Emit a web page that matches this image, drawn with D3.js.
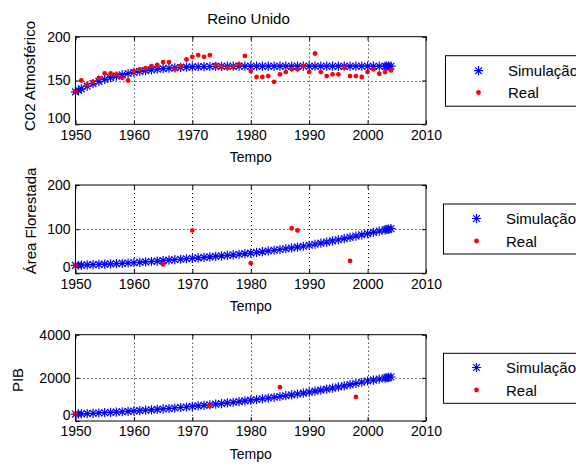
<!DOCTYPE html>
<html><head><meta charset="utf-8">
<script src="https://cdn.jsdelivr.net/npm/d3@7"></script>
<style>
html,body{margin:0;padding:0;background:#fff;}
svg text{font-family:"Liberation Sans",Arial,Helvetica,sans-serif;fill:#000;}
</style></head>
<body><svg id="c" width="576" height="466"></svg>
<script>
// ---------- data ----------
const title = "Reino Unido";
const xTicks = [1950, 1960, 1970, 1980, 1990, 2000, 2010];
const legendLabels = ["Simulação", "Real"];

const simYears = [1950,1950.5,1951,1952,1953,1954,1955,1956,1957,1958,1959,
  1960,1961,1962,1963,1964,1965,1966,1967,1968,1969,
  1970,1971,1972,1973,1974,1975,1976,1977,1978,1979,
  1980,1981,1982,1983,1984,1985,1986,1987,1988,1989,
  1990,1991,1992,1993,1994,1995,1996,1997,1998,1999,
  2000,2001,2002,2003,2003.3,2003.6,2004];

// CO2 Atmosférico
const co2Sim = [137,139,140.5,143.5,146.5,149,151.2,153.2,155,156.6,158,
  159.2,160.3,161.3,162.1,162.9,163.5,164,164.5,164.9,165.2,
  165.5,165.7,165.9,166,166.1,166.2,166.3,166.3,166.3,166.3,
  166.3,166.3,166.3,166.3,166.3,166.3,166.3,166.3,166.3,166.3,
  166.3,166.3,166.3,166.3,166.3,166.3,166.3,166.3,166.3,166.3,
  166.3,166.3,166.3,166.3,166.3,166.3,166.3];
const co2RealYears = [1950,1951,1952,1953,1954,1955,1956,1957,1958,1959,
  1960,1961,1962,1963,1964,1965,1966,1967,1968,1969,
  1970,1971,1972,1973,1974,1975,1976,1977,1978,1979,
  1980,1981,1982,1983,1984,1985,1986,1987,1988,1989,
  1990,1991,1992,1993,1994,1995,1996,1997,1998,1999,
  2000,2001,2002,2003,2004];
const co2Real = [137.7,150,145.4,148.5,153,158,158,157,153,150,
  160.8,162.7,164,166.5,167.7,171,171,162.7,166.5,174,
  177,179,177,179,167.7,165.4,164.6,165.4,168.5,178,
  160.8,154,154,155,148.5,157,159.6,162.7,162.7,166.5,
  159.6,180.8,159.6,155,157,157,164.6,155,155,154,
  159.6,162.7,157.7,159.6,161.5];

// Área Florestada
const areaSim = [18,18.2,18.5,19,19.5,20.1,20.7,21.3,22,22.6,23.3,
  24,24.9,25.8,26.7,27.7,28.7,29.7,30.8,31.8,32.9,
  34,35.1,36.2,37.3,38.4,39.6,40.7,41.9,43.1,44.5,
  46,47.5,49,50.6,52.2,53.9,55.6,57.4,59.3,61.3,
  63.5,65.8,68.2,70.7,73.3,76,78.7,81.5,84.3,87.1,
  90,92.8,95.6,98.4,99.3,100.2,101];
const areaRealYears = [1950,1965,1970,1980,1987,1988,1997];
const areaReal = [18,20,97,23,102,97,28];

// PIB
const pibSim = [320,326,332,344,357,370,384,398,413,428,446,
  465,482,500,518,538,558,580,602,625,650,
  675,700,726,752,780,808,838,868,900,932,
  965,997,1030,1064,1099,1135,1172,1211,1251,1292,
  1340,1385,1430,1478,1527,1578,1630,1683,1738,1795,
  1853,1895,1945,1990,2005,2020,2040];
const pibRealYears = [1950,1973,1985,1998];
const pibReal = [320,700,1570,1115];

// ---------- layout ----------
const panels = [
  {top:36.7, bottom:124.3, yDomain:[100,200], yTicks:[100,150,200], ylabel:"C02 Atmosférico", ylx:29, yly:76,
   sim:co2Sim, realX:co2RealYears, real:co2Real, legend:{x:445.5,y:55.7,h:50.5,r1:70.7,r2:92.5}},
  {top:185, bottom:273.3, yDomain:[0,200], yTicks:[0,100,200], ylabel:"Área Florestada", ylx:30, yly:221,
   sim:areaSim, realX:areaRealYears, real:areaReal, legend:{x:443.5,y:204,h:50,r1:218.5,r2:241}},
  {top:334.7, bottom:421, yDomain:[0,4000], yTicks:[0,2000,4000], ylabel:"PIB", ylx:17.5, yly:380,
   sim:pibSim, realX:pibRealYears, real:pibReal, legend:{x:443.5,y:353.3,h:50,r1:367.5,r2:390}}
];
const left = 75.5, right = 426;
const svg = d3.select("#c");
const x = d3.scaleLinear().domain([1950,2010]).range([left,right]);
const FS = 14;

svg.append("text").attr("x", 248.5).attr("y", 24).attr("text-anchor","middle")
  .style("font-size", "15px").text(title);

function asterisk(g, cx, cy, color) {
  const a = 4.6, b = 3.4;
  g.append("path")
    .attr("d", `M${cx-a},${cy}H${cx+a}M${cx},${cy-a}V${cy+a}M${cx-b},${cy-b}L${cx+b},${cy+b}M${cx-b},${cy+b}L${cx+b},${cy-b}`)
    .attr("stroke", color).attr("stroke-width", 1.2).attr("fill","none");
}

panels.forEach(p => {
  const y = d3.scaleLinear().domain(p.yDomain).range([p.bottom, p.top]);
  const g = svg.append("g");
  g.append("rect").attr("x",left).attr("y",p.top).attr("width",right-left).attr("height",p.bottom-p.top).attr("fill","#fff");
  // grid
  const grid = g.append("g").attr("stroke","#000").attr("stroke-width",1).attr("stroke-dasharray","1,3");
  xTicks.slice(1,-1).forEach(t => grid.append("line").attr("x1",Math.round(x(t))+0.5).attr("x2",Math.round(x(t))+0.5).attr("y1",p.top).attr("y2",p.bottom));
  p.yTicks.slice(1,-1).forEach(t => grid.append("line").attr("x1",left).attr("x2",right).attr("y1",Math.round(y(t))+0.5).attr("y2",Math.round(y(t))+0.5));

  const xAxis = d3.axisBottom(x).tickValues(xTicks).tickFormat(d3.format("d")).tickSizeInner(-4).tickSizeOuter(0);
  const ax = g.append("g").attr("transform",`translate(0,${p.bottom})`).call(xAxis);
  ax.select(".domain").remove();
  ax.selectAll("line").attr("stroke","#000");
  ax.selectAll("text").style("font-size",FS+"px").attr("dy","0.71em").attr("y",5.5);
  const xTop = d3.axisTop(x).tickValues(xTicks).tickFormat("").tickSizeInner(-4).tickSizeOuter(0);
  const axt = g.append("g").attr("transform",`translate(0,${p.top})`).call(xTop);
  axt.select(".domain").remove(); axt.selectAll("line").attr("stroke","#000");

  const yAxis = d3.axisLeft(y).tickValues(p.yTicks).tickFormat(d3.format("d")).tickSizeInner(-4).tickSizeOuter(0);
  const ay = g.append("g").attr("transform",`translate(${left},0)`).call(yAxis);
  ay.select(".domain").remove(); ay.selectAll("line").attr("stroke","#000");
  ay.selectAll("text").style("font-size",FS+"px").attr("x",-5).attr("dy",(d,i)=> i===0 ? "-0.1em" : "0.32em");
  const yR = d3.axisRight(y).tickValues(p.yTicks).tickFormat("").tickSizeInner(-4).tickSizeOuter(0);
  const ayr = g.append("g").attr("transform",`translate(${right},0)`).call(yR);
  ayr.select(".domain").remove(); ayr.selectAll("line").attr("stroke","#000");

  // sim markers
  const sg = g.append("g");
  p.sim.forEach((v,i) => asterisk(sg, x(simYears[i]), y(v), "#0000ff"));
  // real dots
  g.append("g").selectAll("circle").data(p.real).join("circle")
    .attr("cx",(d,i)=>x(p.realX[i])).attr("cy",d=>y(d)).attr("r",2.4).attr("fill","#ff0000");

  g.append("rect").attr("x",left).attr("y",p.top).attr("width",right-left).attr("height",p.bottom-p.top)
    .attr("fill","none").attr("stroke","#000").attr("stroke-width",1);

  g.append("text").attr("x", (left+right)/2).attr("y", p.bottom+38).attr("text-anchor","middle")
    .style("font-size",FS+"px").text("Tempo");
  g.append("text").attr("transform",`translate(${p.ylx},${p.yly}) rotate(-90)`)
    .attr("text-anchor","middle").attr("dominant-baseline","central").style("font-size","15px").text(p.ylabel);

  // legend
  const L = p.legend;
  const lg = svg.append("g");
  lg.append("rect").attr("x",L.x).attr("y",L.y).attr("width",170).attr("height",L.h)
    .attr("fill","#fff").attr("stroke","#000").attr("stroke-width",1);
  asterisk(lg, L.x+33, L.r1, "#0000ff");
  lg.append("circle").attr("cx",L.x+33).attr("cy",L.r2).attr("r",2.4).attr("fill","#ff0000");
  lg.append("text").attr("x",L.x+62.5).attr("y",L.r1).attr("dominant-baseline","central").style("font-size","15px").text(legendLabels[0]);
  lg.append("text").attr("x",L.x+62.5).attr("y",L.r2).attr("dominant-baseline","central").style("font-size","15px").text(legendLabels[1]);
});
</script></body></html>
